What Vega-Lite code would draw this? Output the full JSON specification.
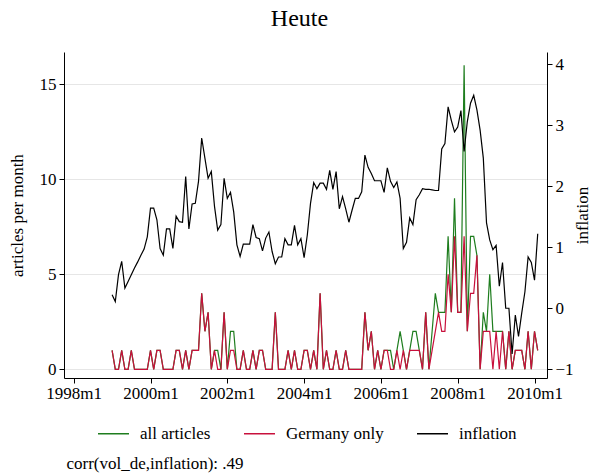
{
  "$schema": "https://vega.github.io/schema/vega-lite/v6.json",
  "width": 483,
  "height": 326,
  "autosize": {"type": "none"},
  "padding": {"left": 64, "top": 52, "right": 50, "bottom": 95},
  "background": "white",
  "config": {"view": {"stroke": null}, "font": "Liberation Serif"},
  "title": {"text": "Heute", "fontSize": 24, "font": "Liberation Serif", "fontWeight": "normal", "color": "black", "offset": 21, "dx": -6},
  "data": {"values": [
    {"t":468,"all":1,"de":1,"infl":0.22},{"t":469,"all":0,"de":0,"infl":0.11},{"t":470,"all":0,"de":0,"infl":0.55},{"t":471,"all":1,"de":1,"infl":0.77},
    {"t":472,"all":0,"de":0,"infl":0.33},{"t":473,"all":0,"de":0,"infl":0.44},{"t":474,"all":1,"de":1,"infl":0.55},{"t":475,"all":0,"de":0,"infl":0.66},
    {"t":476,"all":0,"de":0,"infl":0.76},{"t":477,"all":0,"de":0,"infl":0.87},{"t":478,"all":0,"de":0,"infl":0.97},{"t":479,"all":0,"de":0,"infl":1.17},
    {"t":480,"all":1,"de":1,"infl":1.64},{"t":481,"all":0,"de":0,"infl":1.64},{"t":482,"all":1,"de":1,"infl":1.45},{"t":483,"all":1,"de":1,"infl":0.98},
    {"t":484,"all":0,"de":0,"infl":0.87},{"t":485,"all":0,"de":0,"infl":1.30},{"t":486,"all":0,"de":0,"infl":1.30},{"t":487,"all":0,"de":0,"infl":0.98},
    {"t":488,"all":1,"de":1,"infl":1.51},{"t":489,"all":1,"de":1,"infl":1.42},{"t":490,"all":0,"de":0,"infl":1.41},{"t":491,"all":1,"de":1,"infl":2.16},
    {"t":492,"all":0,"de":0,"infl":1.30},{"t":493,"all":1,"de":1,"infl":1.71},{"t":494,"all":1,"de":1,"infl":1.72},{"t":495,"all":1,"de":1,"infl":2.08},
    {"t":496,"all":4,"de":4,"infl":2.79},{"t":497,"all":2,"de":2,"infl":2.46},{"t":498,"all":3,"de":3,"infl":2.13},{"t":499,"all":0,"de":0,"infl":2.24},
    {"t":500,"all":1,"de":1,"infl":1.67},{"t":501,"all":1,"de":0,"infl":1.28},{"t":502,"all":0,"de":0,"infl":1.37},{"t":503,"all":3,"de":3,"infl":2.13},
    {"t":504,"all":0,"de":0,"infl":1.80},{"t":505,"all":2,"de":1,"infl":1.90},{"t":506,"all":2,"de":1,"infl":1.58},{"t":507,"all":0,"de":0,"infl":1.04},
    {"t":508,"all":0,"de":0,"infl":0.85},{"t":509,"all":1,"de":1,"infl":1.05},{"t":510,"all":0,"de":0,"infl":1.05},{"t":511,"all":0,"de":0,"infl":1.05},
    {"t":512,"all":1,"de":1,"infl":1.37},{"t":513,"all":0,"de":0,"infl":1.16},{"t":514,"all":1,"de":1,"infl":1.14},{"t":515,"all":1,"de":1,"infl":0.94},
    {"t":516,"all":0,"de":0,"infl":1.15},{"t":517,"all":0,"de":0,"infl":1.25},{"t":518,"all":0,"de":0,"infl":0.93},{"t":519,"all":3,"de":3,"infl":0.73},
    {"t":520,"all":0,"de":0,"infl":0.84},{"t":521,"all":0,"de":0,"infl":0.84},{"t":522,"all":0,"de":0,"infl":1.14},{"t":523,"all":1,"de":1,"infl":1.04},
    {"t":524,"all":0,"de":0,"infl":1.04},{"t":525,"all":1,"de":1,"infl":1.36},{"t":526,"all":0,"de":0,"infl":1.04},{"t":527,"all":0,"de":0,"infl":1.14},
    {"t":528,"all":1,"de":1,"infl":0.83},{"t":529,"all":1,"de":1,"infl":1.20},{"t":530,"all":0,"de":0,"infl":1.72},{"t":531,"all":1,"de":1,"infl":2.06},
    {"t":532,"all":0,"de":0,"infl":1.96},{"t":533,"all":4,"de":4,"infl":2.05},{"t":534,"all":0,"de":0,"infl":2.05},{"t":535,"all":1,"de":1,"infl":1.95},
    {"t":536,"all":0,"de":0,"infl":2.26},{"t":537,"all":0,"de":0,"infl":1.95},{"t":538,"all":1,"de":1,"infl":2.24},{"t":539,"all":0,"de":0,"infl":1.63},
    {"t":540,"all":0,"de":0,"infl":1.83},{"t":541,"all":1,"de":1,"infl":1.63},{"t":542,"all":0,"de":0,"infl":1.41},{"t":543,"all":0,"de":0,"infl":1.61},
    {"t":544,"all":0,"de":0,"infl":1.80},{"t":545,"all":0,"de":0,"infl":1.80},{"t":546,"all":0,"de":0,"infl":1.91},{"t":547,"all":3,"de":3,"infl":2.51},
    {"t":548,"all":1,"de":1,"infl":2.31},{"t":549,"all":2,"de":2,"infl":2.21},{"t":550,"all":0,"de":0,"infl":2.09},{"t":551,"all":1,"de":1,"infl":2.09},
    {"t":552,"all":0,"de":0,"infl":2.09},{"t":553,"all":1,"de":1,"infl":1.90},{"t":554,"all":1,"de":1,"infl":2.30},{"t":555,"all":1,"de":0,"infl":2.08},
    {"t":556,"all":0,"de":0,"infl":1.98},{"t":557,"all":1,"de":1,"infl":2.07},{"t":558,"all":2,"de":0,"infl":1.80},{"t":559,"all":1,"de":1,"infl":0.98},
    {"t":560,"all":0,"de":0,"infl":1.08},{"t":561,"all":1,"de":1,"infl":1.48},{"t":562,"all":2,"de":1,"infl":1.37},{"t":563,"all":2,"de":1,"infl":1.78},
    {"t":564,"all":1,"de":1,"infl":1.86},{"t":565,"all":0,"de":0,"infl":1.96},{"t":566,"all":3,"de":3,"infl":1.95},{"t":567,"all":0,"de":0,"infl":1.95},
    {"t":568,"all":2,"de":1,"infl":1.94},{"t":569,"all":4,"de":2,"infl":1.93},{"t":570,"all":3,"de":3,"infl":1.93},{"t":571,"all":3,"de":2,"infl":2.61},
    {"t":572,"all":3,"de":2,"infl":2.70},{"t":573,"all":7,"de":5,"infl":3.30},{"t":574,"all":3,"de":3,"infl":3.08},{"t":575,"all":9,"de":7,"infl":2.89},
    {"t":576,"all":3,"de":3,"infl":2.97},{"t":577,"all":3,"de":3,"infl":3.24},{"t":578,"all":16,"de":7,"infl":2.57},{"t":579,"all":2,"de":2,"infl":3.06},
    {"t":580,"all":7,"de":4,"infl":3.36},{"t":581,"all":7,"de":4,"infl":3.49},{"t":582,"all":6,"de":6,"infl":3.25},{"t":583,"all":0,"de":0,"infl":2.92},
    {"t":584,"all":3,"de":2,"infl":2.46},{"t":585,"all":2,"de":2,"infl":1.40},{"t":586,"all":5,"de":2,"infl":1.12},{"t":587,"all":2,"de":0,"infl":0.96},
    {"t":588,"all":2,"de":2,"infl":1.03},{"t":589,"all":2,"de":0,"infl":0.36},{"t":590,"all":2,"de":2,"infl":0.75},{"t":591,"all":0,"de":0,"infl":0.0},
    {"t":592,"all":2,"de":2,"infl":0.0},{"t":593,"all":0,"de":0,"infl":-0.75},{"t":594,"all":1,"de":1,"infl":-0.11},{"t":595,"all":1,"de":1,"infl":-0.46},
    {"t":596,"all":1,"de":1,"infl":-0.08},{"t":597,"all":0,"de":0,"infl":0.27},{"t":598,"all":2,"de":2,"infl":0.84},{"t":599,"all":0,"de":0,"infl":0.75},
    {"t":600,"all":2,"de":2,"infl":0.46},{"t":601,"all":1,"de":1,"infl":1.22}
  ]},
  "transform": [{"fold": ["all", "de", "infl"], "as": ["series", "value"]}],
  "encoding": {
    "x": {
      "field": "t", "type": "quantitative",
      "scale": {"domain": [452.97, 603.9], "nice": false, "zero": false},
      "axis": {
        "values": [456, 480, 504, 528, 552, 576, 600],
        "labelExpr": "(1960 + floor(datum.value / 12)) + 'm' + (datum.value % 12 + 1)",
        "labelFont": "Liberation Serif", "labelFontSize": 17, "labelColor": "black",
        "labelPadding": 2, "tickSize": 5, "tickColor": "black", "domainColor": "black",
        "grid": false, "labelFlush": false,
        "title": "corr(vol_de,inflation): .49",
        "titleFont": "Liberation Serif", "titleFontSize": 17, "titleFontWeight": "normal", "titleColor": "black",
        "titleAnchor": "start", "titleAlign": "left", "titleBaseline": "alphabetic", "titleX": 2, "titleY": 90
      }
    }
  },
  "layer": [
    {
      "transform": [{"filter": "datum.series != 'infl'"}],
      "mark": {"type": "line", "strokeWidth": 1.2},
      "encoding": {
        "y": {
          "field": "value", "type": "quantitative",
          "scale": {"domain": [-0.458, 16.7], "nice": false, "zero": false},
          "axis": {
            "values": [0, 5, 10, 15], "grid": true, "gridColor": "#e6e6e6", "gridWidth": 1.2,
            "labelFont": "Liberation Serif", "labelFontSize": 17, "labelColor": "black", "labelPadding": 3,
            "tickSize": 5, "tickColor": "black", "domainColor": "black",
            "title": "articles per month", "titleFont": "Liberation Serif", "titleFontSize": 17,
            "titleFontWeight": "normal", "titleColor": "black", "titlePadding": 13
          }
        },
        "color": {
          "field": "series", "type": "nominal",
          "scale": {"domain": ["all", "de", "infl"], "range": ["#1e7d1e", "#c8103c", "#000000"]},
          "legend": {
            "orient": "none", "legendX": 33, "legendY": 365, "direction": "horizontal", "title": null,
            "symbolType": "stroke", "symbolSize": 961, "symbolStrokeWidth": 1.5,
            "labelFont": "Liberation Serif", "labelFontSize": 17, "labelColor": "black",
            "labelOffset": 10, "columnPadding": 30,
            "labelExpr": "datum.label == 'all' ? 'all articles' : datum.label == 'de' ? 'Germany only' : 'inflation'"
          }
        }
      }
    },
    {
      "transform": [{"filter": "datum.series == 'infl'"}],
      "mark": {"type": "line", "strokeWidth": 1.2},
      "encoding": {
        "y": {
          "field": "value", "type": "quantitative",
          "scale": {"domain": [-1.143, 4.2], "nice": false, "zero": false},
          "axis": {
            "orient": "right", "values": [-1, 0, 1, 2, 3, 4], "grid": false,
            "labelFont": "Liberation Serif", "labelFontSize": 17, "labelColor": "black", "labelPadding": 3,
            "tickSize": 5, "tickColor": "black", "domainColor": "black",
            "title": "inflation", "titleFont": "Liberation Serif", "titleFontSize": 17,
            "titleFontWeight": "normal", "titleColor": "black", "titlePadding": 18, "titleAngle": 270
          }
        },
        "color": {"field": "series", "type": "nominal"}
      }
    }
  ],
  "resolve": {"scale": {"y": "independent"}}
}
